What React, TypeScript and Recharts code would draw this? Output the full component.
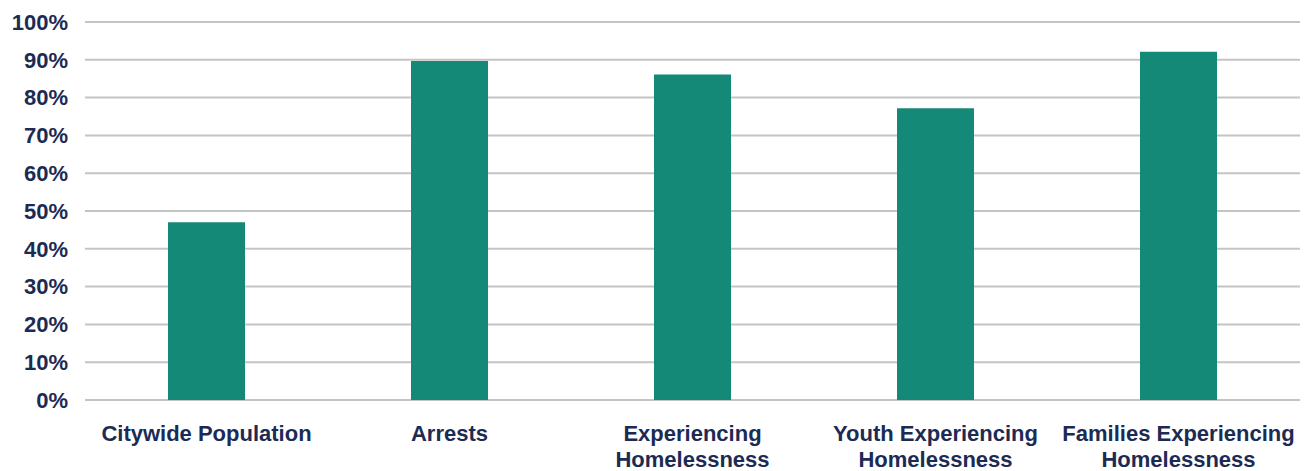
import React from 'react';
import { BarChart, Bar, XAxis, YAxis, CartesianGrid } from 'recharts';

const categories = [
  'Citywide Population',
  'Arrests',
  'Experiencing\nHomelessness',
  'Youth Experiencing\nHomelessness',
  'Families Experiencing\nHomelessness',
];
const shares = [47.0, 89.7, 86.1, 77.2, 92.1];
const yTicks = [0, 10, 20, 30, 40, 50, 60, 70, 80, 90, 100];

const data = categories.map((name, i) => ({ name, value: shares[i] }));

const NAVY = '#1c2b54';
const TEAL = '#158977';
const FONT = '"Liberation Sans", Arial, sans-serif';

const CategoryTick = ({ x, y, payload }: any) => {
  const lines = String(payload.value).split('\n');
  return (
    <text
      x={x}
      y={y}
      textAnchor="middle"
      fill={NAVY}
      fontFamily={FONT}
      fontWeight={700}
      fontSize={22}
    >
      {lines.map((line, i) => (
        <tspan key={i} x={x} dy={i === 0 ? 33 : 26}>
          {line}
        </tspan>
      ))}
    </text>
  );
};

const App: React.FC = () => {
  return (
    <div style={{ position: 'absolute', left: 0, top: 0, background: '#fff' }}>
      <BarChart
        width={1306}
        height={471}
        data={data}
        margin={{ top: 22, right: 6, left: 0, bottom: 11 }}
        barSize={77}
      >
        <CartesianGrid vertical={false} stroke="#c4c4c4" strokeWidth={2} />
        <XAxis
          dataKey="name"
          axisLine={false}
          tickLine={false}
          interval={0}
          height={60}
          tick={<CategoryTick />}
        />
        <YAxis
          width={85}
          domain={[0, 100]}
          ticks={yTicks}
          interval={0}
          axisLine={false}
          tickLine={false}
          tickMargin={11}
          tickFormatter={(v: number) => `${v}%`}
          tick={{ fill: NAVY, fontFamily: FONT, fontWeight: 700, fontSize: 22 }}
        />
        <Bar dataKey="value" fill={TEAL} isAnimationActive={false} />
      </BarChart>
    </div>
  );
};

export default App;
